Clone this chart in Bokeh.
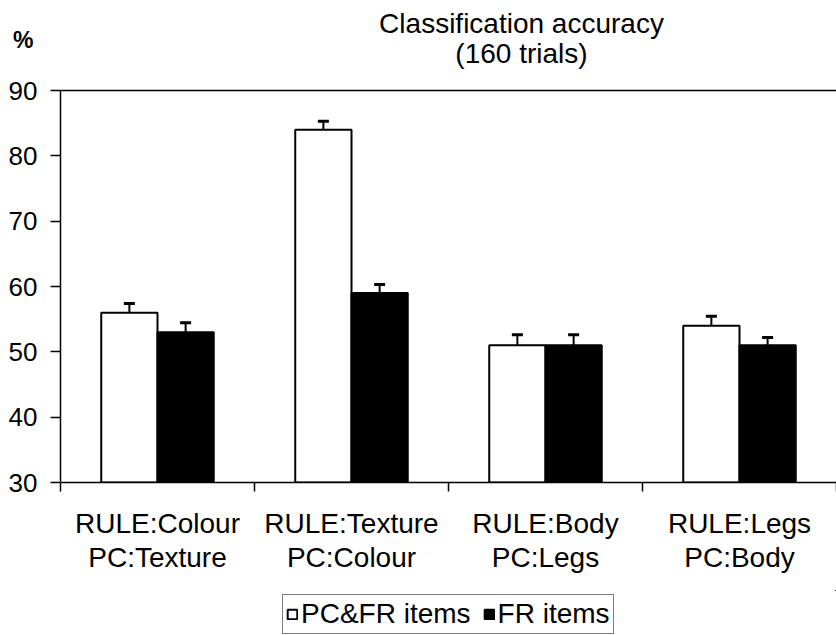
from bokeh.plotting import figure
from bokeh.layouts import column
from bokeh.models import (Range1d, FixedTicker, LinearAxis, Whisker, TeeHead,
                          ColumnDataSource, Legend, LegendItem)
from bokeh.core.properties import value
from bokeh.embed import file_html
from bokeh.resources import INLINE

# ---------------- data ----------------
categories = ["RULE:Colour\nPC:Texture", "RULE:Texture\nPC:Colour",
              "RULE:Body\nPC:Legs", "RULE:Legs\nPC:Body"]
pcfr_values = [56, 84, 51, 54]
fr_values = [53, 59, 51, 51]
pcfr_errors = [1.4, 1.3, 1.6, 1.45]
fr_errors = [1.45, 1.3, 1.6, 1.2]
y_ticks = [30, 40, 50, 60, 70, 80, 90]
series_names = ["PC&FR items", "FR items"]
title_lines = ["Classification accuracy", "(160 trials)"]
y_unit = "%"

FONT = "Liberation Sans"
W = 836
LEFT = 60          # left border shared by all stacked figures (frames are aligned)
Y0, Y1 = y_ticks[0], y_ticks[-1]
n = len(categories)
centers = [i + 1 for i in range(n)]
bar_w = 0.29


def bare_figure(height, x_range, y_range):
    f = figure(width=W, height=height, output_backend="svg", toolbar_location=None,
               title=None,
               x_range=x_range, y_range=y_range, x_axis_type=None, y_axis_type=None,
               min_border=0, min_border_left=LEFT, min_border_right=0,
               min_border_top=0, min_border_bottom=0)
    f.outline_line_color = None
    f.xgrid.visible = False
    f.ygrid.visible = False
    return f


# ---------------- header (title + unit) ----------------
HEAD_H = 70
head = bare_figure(HEAD_H, Range1d(LEFT, W), Range1d(HEAD_H, 0))
head.text(x=[521, 521], y=[23, 53], text=title_lines, text_align="center",
          text_baseline="middle", text_font=value(FONT),
          text_font_size="28px", text_color="black")
unit_axis = LinearAxis(ticker=FixedTicker(ticks=[39]),
                       major_label_overrides={39: y_unit},
                       axis_line_color=None, major_tick_line_color=None,
                       minor_tick_line_color=None, major_tick_out=0, major_tick_in=0,
                       major_label_standoff=27, major_label_text_font=FONT,
                       major_label_text_font_size="23px",
                       major_label_text_font_style="bold",
                       major_label_text_color="black")
head.add_layout(unit_axis, "left")

# ---------------- main chart ----------------
MAIN_H = 520
p = figure(width=W, height=MAIN_H, output_backend="svg", toolbar_location=None,
           title=None,
           x_range=Range1d(0.5, n + 0.5), y_range=Range1d(Y0, Y1),
           min_border_left=LEFT, min_border_right=0, min_border_top=20,
           min_border_bottom=108)
p.outline_line_color = None
p.xgrid.visible = False
p.ygrid.visible = False

left_x = [c - bar_w / 2 for c in centers]
right_x = [c + bar_w / 2 for c in centers]

src1 = ColumnDataSource(dict(x=left_x, top=pcfr_values,
                             up=[v + e for v, e in zip(pcfr_values, pcfr_errors)]))
src2 = ColumnDataSource(dict(x=right_x, top=fr_values,
                             up=[v + e for v, e in zip(fr_values, fr_errors)]))

bar_styles = [dict(fill_color="white", line_color="black", line_width=2),
              dict(fill_color="black", line_color="black", line_width=2)]

p.vbar(x="x", top="top", bottom=Y0, width=bar_w, source=src1, **bar_styles[0])
p.vbar(x="x", top="top", bottom=Y0, width=bar_w, source=src2, **bar_styles[1])

for src in (src1, src2):
    w = Whisker(base="x", lower="top", upper="up", source=src, dimension="height",
                line_color="black", line_width=2, lower_head=None,
                upper_head=TeeHead(size=11, line_width=3, line_color="black"))
    p.add_layout(w)

# y axis
ya = p.yaxis[0]
ya.ticker = FixedTicker(ticks=y_ticks)
ya.major_tick_out = 10
ya.major_tick_in = 0
ya.minor_tick_line_color = None
ya.axis_line_width = 1.5
ya.axis_line_color = "black"
ya.major_tick_line_color = "black"
ya.major_tick_line_width = 1.5
ya.major_label_text_font = FONT
ya.major_label_text_font_size = "26px"
ya.major_label_text_color = "black"
ya.major_label_standoff = 13

# x axis
xa = p.xaxis[0]
xa.ticker = FixedTicker(ticks=centers, minor_ticks=[c - 0.5 for c in centers] + [n + 0.5])
xa.major_label_overrides = {c: lab for c, lab in zip(centers, categories)}
xa.major_tick_line_color = None
xa.major_tick_out = 0
xa.major_tick_in = 0
xa.minor_tick_out = 9
xa.minor_tick_in = 0
xa.minor_tick_line_color = "black"
xa.minor_tick_line_width = 1.5
xa.axis_line_width = 1.5
xa.axis_line_color = "black"
xa.major_label_text_font = FONT
xa.major_label_text_font_size = "28px"
xa.major_label_text_color = "black"
xa.major_label_text_line_height = 1.1
xa.major_label_standoff = 16

# top border line of the plot area
top_axis = LinearAxis(ticker=FixedTicker(ticks=[]), axis_line_color="black",
                      axis_line_width=1.5, major_tick_line_color=None,
                      minor_tick_line_color=None, major_tick_out=0, major_tick_in=0,
                      major_label_standoff=0, major_label_text_font_size="0px")
p.add_layout(top_axis, "above")

# ---------------- legend strip ----------------
LEG_H = 45
lg = bare_figure(LEG_H, Range1d(-1, 0), Range1d(0, 1))
# same series drawn into this strip only to feed the legend (outside its ranges)
lr = [lg.vbar(x="x", top="top", bottom=Y0, width=bar_w, source=s, **st)
      for s, st in zip((src1, src2), bar_styles)]
legend = Legend(items=[LegendItem(label=nm, renderers=[r]) for nm, r in zip(series_names, lr)],
                orientation="horizontal", location=(222, 1),
                border_line_color="black", border_line_width=1,
                label_text_font=FONT, label_text_font_size="28px",
                label_text_color="black",
                glyph_width=12, glyph_height=12, padding=3, spacing=12,
                label_standoff=3, margin=0, background_fill_color="white")
lg.add_layout(legend, "center")

layout = column(head, p, lg, spacing=0)
open("out.html", "w").write(file_html(layout, INLINE))
